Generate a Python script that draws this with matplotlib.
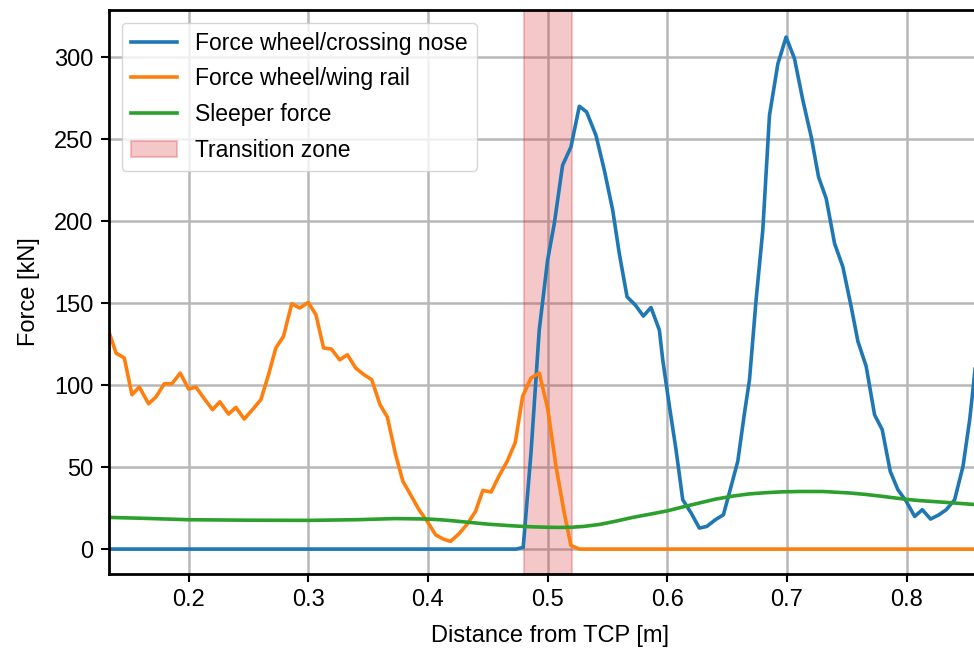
import matplotlib
matplotlib.use('Agg')
import matplotlib.pyplot as plt

plt.rcParams['font.family'] = ['Liberation Sans', 'DejaVu Sans']

# Force wheel/wing rail (orange)
wing_x = [0.1338, 0.1394, 0.1463, 0.1527, 0.1588, 0.1666, 0.1727, 0.1797, 0.1861, 0.1930,
          0.2000, 0.2061, 0.2131, 0.2200, 0.2261, 0.2334, 0.2395, 0.2465, 0.2534, 0.2604,
          0.2668, 0.2729, 0.2793, 0.2862, 0.2929, 0.3000, 0.3064, 0.3128, 0.3193, 0.3263,
          0.3327, 0.3396, 0.3466, 0.3530, 0.3600, 0.3661, 0.3730, 0.3791, 0.3855, 0.3925,
          0.3994, 0.4064, 0.4128, 0.4189, 0.4259, 0.4328, 0.4398, 0.4459, 0.4528, 0.4592,
          0.4662, 0.4730, 0.4791, 0.4861, 0.4930, 0.5000, 0.5070, 0.5139, 0.5195, 0.5265,
          0.6, 0.7, 0.8, 0.87]
wing_f = [131.7, 119.5, 116.5, 94.1, 98.8, 88.6, 92.7, 100.8, 100.8, 107.3,
          97.6, 98.8, 91.7, 85.0, 89.8, 82.3, 86.4, 79.3, 85.0, 91.1,
          106.3, 122.6, 129.7, 149.6, 147.0, 150.4, 142.9, 122.6, 122.0, 115.4,
          118.5, 110.4, 106.3, 103.3, 88.0, 80.5, 57.5, 41.3, 33.1, 24.0,
          16.9, 8.7, 6.1, 4.7, 9.3, 15.2, 23.0, 35.8, 34.8, 44.3,
          53.5, 65.0, 93.1, 104.3, 107.3, 86.0, 50.4, 22.0, 2.2, 0.0,
          0.0, 0.0, 0.0, 0.0]

# Force wheel/crossing nose (blue)
nose_x = [0.1338, 0.3, 0.4735, 0.4796, 0.4861, 0.4930, 0.5000, 0.5056, 0.5125, 0.5195,
          0.5265, 0.5326, 0.5404, 0.5474, 0.5544, 0.5599, 0.5664, 0.5733, 0.5800, 0.5864,
          0.5934, 0.5962, 0.6018, 0.6073, 0.6129, 0.6199, 0.6268, 0.6330, 0.6402, 0.6469,
          0.6533, 0.6589, 0.6645, 0.6687, 0.6742, 0.6798, 0.6854, 0.6924, 0.6993, 0.7063,
          0.7133, 0.7203, 0.7264, 0.7328, 0.7398, 0.7467, 0.7537, 0.7593, 0.7662, 0.7732,
          0.7796, 0.7863, 0.7927, 0.7997, 0.8067, 0.8131, 0.8200, 0.8270, 0.8331, 0.8401,
          0.8471, 0.8527, 0.8560, 0.8625]
nose_f = [0.0, 0.0, 0.0, 1.0, 58.5, 133.5, 176.2, 198.5, 234.0, 245.2,
          270.0, 266.5, 252.3, 231.0, 206.6, 180.2, 153.8, 148.8, 142.1, 147.3,
          133.5, 115.4, 87.0, 60.6, 30.1, 22.0, 12.8, 13.8, 17.9, 20.9,
          38.2, 53.5, 82.9, 103.3, 151.8, 194.4, 264.5, 295.9, 312.2, 299.0,
          273.6, 251.3, 226.9, 213.7, 186.3, 172.1, 147.7, 126.6, 111.4, 81.9,
          72.8, 47.4, 36.2, 29.1, 19.9, 24.0, 18.3, 20.9, 24.0, 30.1,
          50.4, 78.9, 101.2, 150.0]

# Sleeper force (green)
sleeper_x = [0.1338, 0.16, 0.2, 0.25, 0.3, 0.34, 0.373, 0.4, 0.41, 0.42,
             0.43, 0.44, 0.45, 0.46, 0.47, 0.48, 0.49, 0.5, 0.51, 0.52,
             0.53, 0.5432, 0.557, 0.5711, 0.585, 0.6, 0.613, 0.6268, 0.64, 0.6547,
             0.668, 0.6826, 0.696, 0.7105, 0.73, 0.7523, 0.766, 0.7802, 0.79, 0.8,
             0.81, 0.822, 0.84, 0.856, 0.87]
sleeper_f = [19.3, 18.8, 17.9, 17.6, 17.5, 17.9, 18.6, 18.3, 17.9, 17.3,
             16.6, 15.9, 15.2, 14.7, 14.2, 13.8, 13.5, 13.3, 13.2, 13.3,
             13.8, 15.0, 17.0, 19.3, 21.2, 23.3, 25.7, 28.1, 30.4, 32.3,
             33.6, 34.4, 34.9, 35.1, 35.1, 34.2, 33.3, 32.1, 31.2, 30.3,
             29.6, 29.0, 28.1, 27.2, 26.6]

zone = (0.48, 0.52)

fig = plt.figure(figsize=(9.74, 6.52), dpi=100)
ax = fig.add_axes([109 / 974, 78 / 652, 882 / 974, 564 / 652])

ax.plot(nose_x, nose_f, color='C0', lw=2.6, label='Force wheel/crossing nose')
ax.plot(wing_x, wing_f, color='C1', lw=2.6, label='Force wheel/wing rail')
ax.plot(sleeper_x, sleeper_f, color='C2', lw=2.6, label='Sleeper force')
ax.axvspan(zone[0], zone[1], color='tab:red', alpha=0.25, lw=1.5, label='Transition zone')

ax.set_xlim(0.1335, 0.8705)
ax.set_ylim(-15.2, 328.7)
ax.set_xticks([0.2, 0.3, 0.4, 0.5, 0.6, 0.7, 0.8])
ax.set_yticks([0, 50, 100, 150, 200, 250, 300])
ax.tick_params(labelsize=17, length=6, width=1.5, pad=5)
ax.grid(True, color='#b8b8b8', lw=1.8)
ax.set_axisbelow(True)
for s in ax.spines.values():
    s.set_linewidth(2)

ax.set_xlabel('Distance from TCP [m]', fontsize=17, labelpad=10)
ax.set_ylabel('Force [kN]', fontsize=17, labelpad=10)
ax.legend(loc='upper left', fontsize=16.5, handlelength=2.0, borderaxespad=0.55,
          labelspacing=0.55)

fig.savefig('out.png', dpi=100)
